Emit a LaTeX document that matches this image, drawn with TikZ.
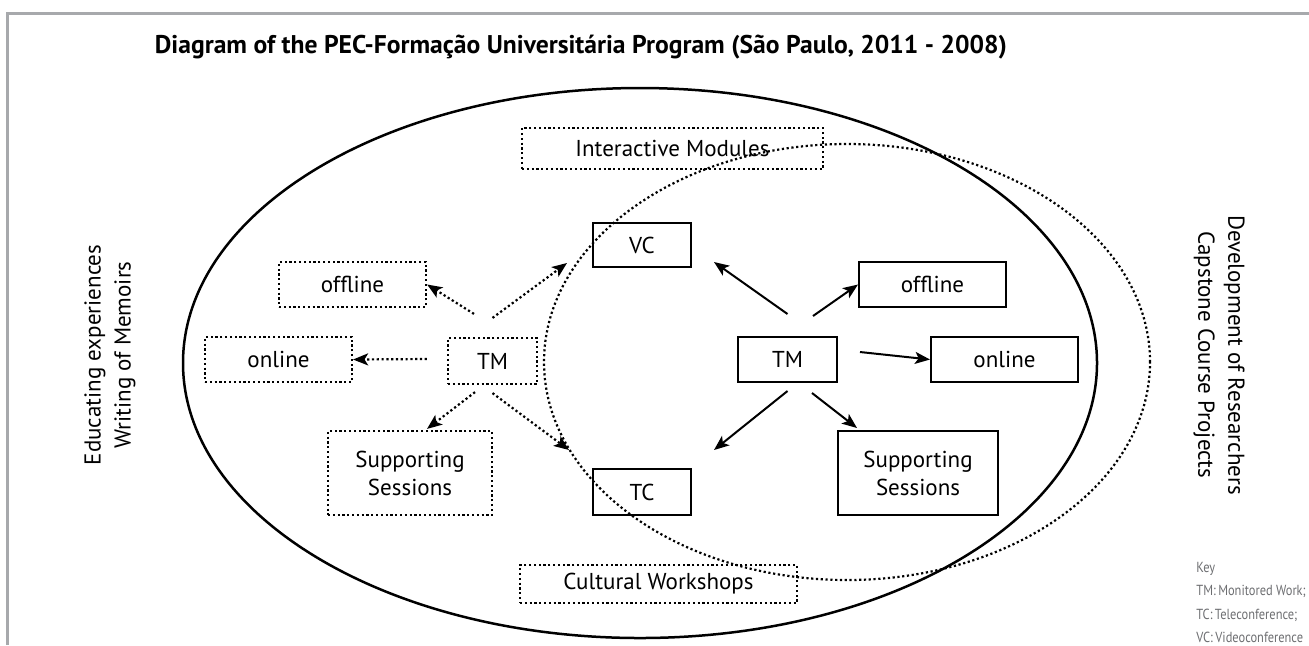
\documentclass[tikz,border=0pt]{standalone}
\usepackage{fontspec}
\setmainfont{PT Sans}
\newfontfamily\keyfont[FakeStretch=0.85]{PT Sans}
\usetikzlibrary{arrows.meta,calc}
\definecolor{framegray}{HTML}{A7A9AC}
\definecolor{keygray}{HTML}{6D6E71}
\begin{document}
\begin{tikzpicture}[x=0.5pt,y=-0.5pt,
  txt/.style={font=\fontsize{11.5}{14}\selectfont, align=center, inner sep=0pt},
  sbox/.style={txt, draw, line width=1pt},
  dbox/.style={txt, draw, line width=1.1pt, dash pattern=on 1.1pt off 1.3pt},
  arr/.style={line width=1pt, -{Stealth[length=7.5pt,width=6pt,inset=1.8pt]}},
  darr/.style={arr, line width=1.1pt, dash pattern=on 1.1pt off 1.3pt},
  sidetxt/.style={font=\fontsize{11.5}{15}\selectfont, align=center, inner sep=0pt},
  keytxt/.style={font=\keyfont\fontsize{7.3}{11.6}\selectfont, text=keygray, align=left, inner sep=0pt, anchor=north west}]
\useasboundingbox (0,0) rectangle (1309,645);
% frame
\draw[framegray, line width=1.5pt] (7,645) -- (7,13) -- (1309,13);
% title
\node[font=\fontsize{12.8}{14}\selectfont\bfseries, inner sep=0pt] (title) at (581,47)
  {Diagram of the PEC-Formação Universitária Program (São Paulo, 2011 - 2008)};
% ellipses
\draw[line width=1.25pt] (640,363) ellipse [x radius=228.5pt, y radius=137.5pt];
\draw[line width=1.1pt, dash pattern=on 1.1pt off 1.3pt] (847,362) ellipse [x radius=151.5pt, y radius=109pt];
% solid boxes
\node[sbox, minimum width=49pt, minimum height=22pt] (vc) at (642,245) {VC};
\node[sbox, minimum width=49pt, minimum height=23pt] (tc) at (642,492) {TC};
\node[sbox, minimum width=49.5pt, minimum height=22.5pt] (tmR) at (787.5,359.5) {TM};
\node[sbox, minimum width=73.5pt, minimum height=22.5pt] (offR) at (932.5,284.5) {offline};
\node[sbox, minimum width=73.5pt, minimum height=22.5pt] (onR) at (1004.5,359.5) {online};
\node[sbox, minimum width=80pt, minimum height=42pt] (supR) at (918,473) {Supporting\\Sessions};
% dotted boxes
\node[dbox, minimum width=73.5pt, minimum height=22.5pt] (offL) at (352.5,284.5) {offline};
\node[dbox, minimum width=73.5pt, minimum height=22.5pt] (onL) at (278.5,359.5) {online};
\node[dbox, minimum width=44.5pt, minimum height=23pt] (tmL) at (492.5,361) {TM};
\node[dbox, minimum width=82pt, minimum height=42pt] (supL) at (410,473) {Supporting\\Sessions};
\node[dbox, minimum width=150.5pt, minimum height=20.5pt] (im) at (672.5,148.5) {Interactive Modules};
\node[dbox, minimum width=138.5pt, minimum height=19pt] (cw) at (658.5,584) {Cultural Workshops};
% solid arrows from right TM
\draw[arr] ($(tmR.north)+(0,-22)$) -- ($(vc.south east)+(22,-6)$);
\draw[arr] ($(tmR.north)+(25.5,-20)$) -- (offR.west);
\draw[arr] ($(tmR.east)+(22,-7.5)$) -- (onR.west);
\draw[arr] ($(tmR.south)+(0,8)$) -- ($(tc.north east)+(22,-18)$);
\draw[arr] ($(tmR.south)+(24.5,10)$) -- ($(supR.north west)+(20,-2)$);
% dotted arrows from left TM
\draw[darr] ($(tmL.north)+(-18.5,-23)$) -- (offL.east);
\draw[darr] ($(tmL.north)+(0,-19)$) -- ($(vc.south west)+(-25,-5)$);
\draw[darr] ($(tmL.west)+(-20,-2)$) -- (onL.east);
\draw[darr] ($(tmL.south)+(-17.5,7)$) -- ($(supL.north)+(17,-1)$);
\draw[darr] ($(tmL.south)+(0,8)$) -- ($(tc.north west)+(-23,-18)$);
% side texts
\node[sidetxt, rotate=90] (left) at (110,355) {Educating experiences\\Writing of Memoirs};
\node[sidetxt, rotate=-90] (right) at (1219,355) {Development of Researchers\\Capstone Course Projects};
% key
\node[keytxt] (key) at (1196,562) {Key\\TM:\,Monitored Work;\\TC:\,Teleconference;\\VC:\,Videoconference};
\end{tikzpicture}
\end{document}
